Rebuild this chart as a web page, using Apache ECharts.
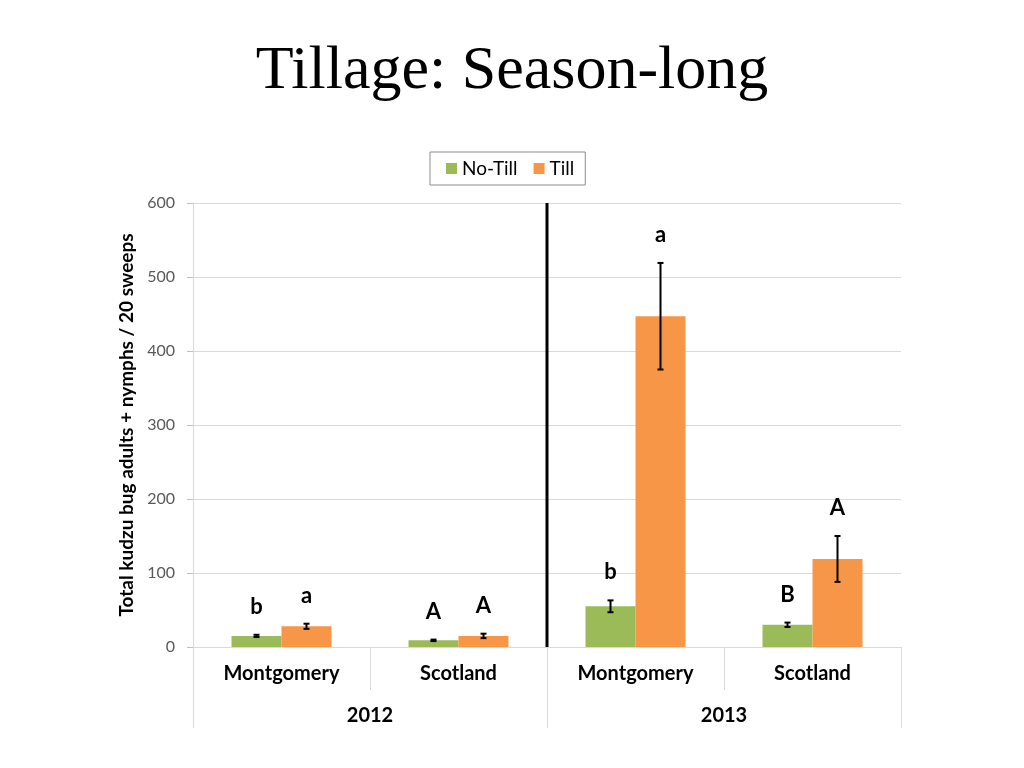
<!DOCTYPE html>
<html>
<head>
<meta charset="utf-8">
<script src="https://cdn.jsdelivr.net/npm/echarts@6/dist/echarts.min.js"></script>
<style>html,body{margin:0;padding:0;background:#fff}#c{width:1024px;height:768px}</style>
</head>
<body>
<div id="c"></div>
<script>
// ---- data ----
const sites = ['Montgomery', 'Scotland', 'Montgomery', 'Scotland'];
const years = ['2012', '2013'];
const seriesNames = ['No-Till', 'Till'];
const noTill = [15, 9, 55, 30];
const noTillErr = [1.5, 1, 8, 3];
const till = [28, 15, 447, 119];
const tillErr = [3.5, 3, 72, 31];
const noTillLetters = ['b', 'A', 'b', 'B'];
const tillLetters = ['a', 'A', 'a', 'A'];
const yTicks = [0, 100, 200, 300, 400, 500, 600];

// ---- style ----
const GREEN = '#9BBB59', ORANGE = '#F79646';
const FONT = 'Lato';
const BAR_W = 50;
const Y_MIN = yTicks[0], Y_MAX = yTicks[yTicks.length - 1], Y_STEP = yTicks[1] - yTicks[0];

function errData(vals, errs) {
  return vals.map((v, i) => [i, v - errs[i], v + errs[i]]);
}
function errSeries(name, vals, errs, letters, side) {
  return {
    type: 'custom', name: name + ' err', xAxisIndex: 0, yAxisIndex: 0, z: 5,
    data: errData(vals, errs),
    encode: { x: 0, y: [1, 2] },
    renderItem: function (params, api) {
      const i = api.value(0);
      const lo = api.coord([i, api.value(1)]);
      const hi = api.coord([i, api.value(2)]);
      const x = lo[0] + side * BAR_W / 2;
      const cap = 3;
      const st = { stroke: '#000', lineWidth: 2 };
      return {
        type: 'group',
        children: [
          { type: 'line', shape: { x1: x, y1: lo[1], x2: x, y2: hi[1] }, style: st },
          { type: 'line', shape: { x1: x - cap, y1: lo[1], x2: x + cap, y2: lo[1] }, style: st },
          { type: 'line', shape: { x1: x - cap, y1: hi[1], x2: x + cap, y2: hi[1] }, style: st },
          { type: 'text', x: x, y: hi[1] - 17,
            style: { text: letters[params.dataIndex], fill: '#000', font: 'bold 22px ' + FONT,
                     textAlign: 'center', textVerticalAlign: 'bottom' } }
        ]
      };
    }
  };
}

const chart = echarts.init(document.getElementById('c'), null, { renderer: 'canvas' });
chart.setOption({
  backgroundColor: '#fff',
  animation: false,
  title: {
    text: 'Tillage: Season-long', left: 'center', top: 36,
    textStyle: { fontFamily: 'Liberation Serif', fontSize: 62, fontWeight: 'normal', color: '#000' }
  },
  legend: {
    data: seriesNames, left: 430, top: 152, icon: 'rect', itemWidth: 11, itemHeight: 11, itemGap: 16,
    borderColor: '#8c8c8c', borderWidth: 1, padding: [7, 11, 7, 16],
    textStyle: { fontFamily: FONT, fontSize: 19, color: '#000' }
  },
  grid: { left: 193, right: 123, top: 203, bottom: 121, containLabel: false },
  xAxis: [
    {
      type: 'category', data: sites, position: 'bottom',
      axisLine: { show: true, lineStyle: { color: '#d9d9d9', width: 1 } },
      axisTick: { show: true, interval: 0, length: 43, lineStyle: { color: '#d9d9d9' } },
      axisLabel: { interval: 0, margin: 17, fontFamily: FONT, fontWeight: 'bold', fontSize: 20, color: '#000' }
    },
    {
      type: 'category', data: years, position: 'bottom', gridIndex: 0,
      axisLine: { show: false },
      axisTick: { show: true, interval: 0, length: 81, lineStyle: { color: '#d9d9d9' } },
      axisLabel: { interval: 0, margin: 59, fontFamily: FONT, fontWeight: 'bold', fontSize: 20, color: '#000' }
    }
  ],
  yAxis: {
    type: 'value', min: Y_MIN, max: Y_MAX, interval: Y_STEP,
    name: 'Total kudzu bug adults + nymphs / 20 sweeps', nameLocation: 'middle', nameGap: 47,
    nameTextStyle: { fontFamily: FONT, fontWeight: 'bold', fontSize: 19, color: '#000' },
    axisLine: { show: true, lineStyle: { color: '#d9d9d9' } },
    axisTick: { show: true, length: 6, lineStyle: { color: '#bfbfbf' } },
    axisLabel: { margin: 18, fontFamily: FONT, fontSize: 16, color: '#595959' },
    splitLine: { show: true, lineStyle: { color: '#d9d9d9' } }
  },
  series: [
    { type: 'bar', name: seriesNames[0], data: noTill, barWidth: BAR_W, barGap: '0%', itemStyle: { color: GREEN } },
    { type: 'bar', name: seriesNames[1], data: till, barWidth: BAR_W, barGap: '0%', itemStyle: { color: ORANGE } },
    errSeries(seriesNames[0], noTill, noTillErr, noTillLetters, -1),
    errSeries(seriesNames[1], till, tillErr, tillLetters, 1),
    {
      type: 'custom', name: 'divider', z: 6, xAxisIndex: 0, yAxisIndex: 0,
      data: [[1, Y_MIN, Y_MAX]], encode: { x: 0, y: [1, 2] },
      renderItem: function (params, api) {
        const b = api.coord([api.value(0), api.value(1)]);
        const t = api.coord([api.value(0), api.value(2)]);
        const x = b[0] + api.size([1, 0])[0] / 2;
        return { type: 'line', shape: { x1: x, y1: b[1], x2: x, y2: t[1] }, style: { stroke: '#000', lineWidth: 3 } };
      }
    }
  ]
});
</script>
</body>
</html>
